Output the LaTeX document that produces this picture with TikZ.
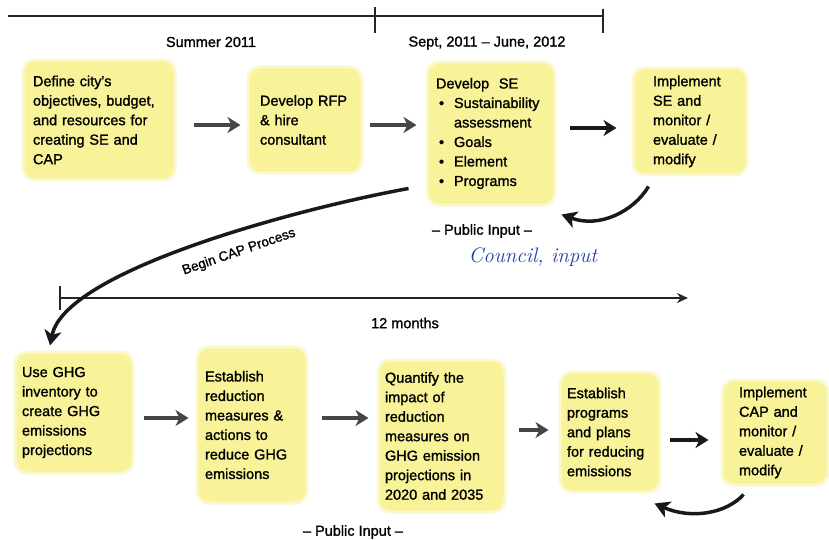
\documentclass[tikz,border=0pt]{standalone}
\usepackage{fontspec}
\newfontfamily\diagfont[FakeBold=1.3]{Liberation Sans}
\usetikzlibrary{arrows.meta}
\definecolor{noteyellow}{RGB}{248,243,152}
\definecolor{noteedge}{RGB}{251,248,205}
\definecolor{arrowgray}{RGB}{66,72,70}
\definecolor{inkblue}{RGB}{28,68,168}
\newcommand{\sebullet}{\makebox[18pt][l]{\hspace{3pt}\textbullet}}
\tikzset{
  stepnote/.style={fill=noteyellow, draw=noteedge, line width=3pt, rounded corners=12pt,
    align=left, inner ysep=2pt, font=\diagfont\fontsize{14.5pt}{19.5pt}\selectfont},
  tlabel/.style={font=\diagfont\fontsize{14.5pt}{17pt}\selectfont},
  timeline/.style={line width=2.4pt, black!85},
  flow/.style={line width=3.5pt, arrowgray, -{Stealth[length=13pt,width=16pt,inset=4pt]}},
  flowdark/.style={flow, black!90},
  loopback/.style={line width=3.5pt, black!90, -{Stealth[length=15pt,width=17pt,inset=4pt]}}
}
\begin{document}
\begin{tikzpicture}[x=1pt,y=-1pt]
\useasboundingbox (0,0) rectangle (829,540);
% time lines
\draw[timeline] (8,16) -- (603,16);
\draw[timeline] (375,7) -- (375,33);
\draw[timeline] (603,9) -- (603,33);
\node[tlabel] (summer) at (211,42) {Summer 2011};
\node[tlabel] (septjune) at (487,43) {Sept, 2011 – June, 2012};
\draw[timeline, -{Stealth[length=11pt,width=10pt]}] (60,298) -- (688,298);
\draw[timeline] (60,286) -- (60,310);
\node[tlabel] (months) at (405,323) {12 months};

% SE steps
\node[stepnote, text width=132pt, inner xsep=10pt, minimum height=120pt] (define) at (99,120)
  {Define city's\\objectives, budget,\\and resources for\\creating SE and\\CAP};
\node[stepnote, text width=90pt, inner xsep=12pt, minimum height=106pt] (rfp) at (305,120)
  {Develop RFP\\\& hire\\consultant};
\node[stepnote, text width=110pt, inner xsep=9pt, minimum height=143pt] (develop) at (491,133.5)
  {Develop\ \ SE\\\sebullet Sustainability\\\hspace*{18pt}assessment\\\sebullet Goals\\\sebullet Element\\\sebullet Programs};
\node[stepnote, text width=74pt, inner xsep=20pt, minimum height=107pt] (implse) at (690,121.5)
  {Implement\\SE and\\monitor /\\evaluate /\\modify};
\node[tlabel] (inputse) at (482,231) {– Public Input –};
\node[font=\rmfamily\itshape\fontsize{21pt}{24pt}\selectfont, inkblue] (council) at (533,257) {Council, input};

% CAP steps
\node[stepnote, text width=104pt, inner xsep=7pt, minimum height=121pt] (ghg) at (74,412.5)
  {Use GHG\\inventory to\\create GHG\\emissions\\projections};
\node[stepnote, text width=94pt, inner xsep=8pt, minimum height=156pt] (measures) at (252,425)
  {Establish\\reduction\\measures \&\\actions to\\reduce GHG\\emissions};
\node[stepnote, text width=113pt, inner xsep=7pt, minimum height=152pt] (quantify) at (441.5,436)
  {Quantify the\\impact of\\reduction\\measures on\\GHG emission\\projections in\\2020 and 2035};
\node[stepnote, text width=86pt, inner xsep=7pt, minimum height=120pt] (programs) at (610,432)
  {Establish\\programs\\and plans\\for reducing\\emissions};
\node[stepnote, text width=72pt, inner xsep=17pt, minimum height=105pt] (implcap) at (775,432.5)
  {Implement\\CAP and\\monitor /\\evaluate /\\modify};
\node[tlabel] (inputcap) at (353,532) {– Public Input –};

% arrows
\draw[flow, shorten <=17pt, shorten >=6pt] ([yshift=-5pt]define.east) -- ([yshift=-5pt]define.east -| rfp.west);
\draw[flow, shorten <=6pt, shorten >=9pt] ([yshift=-5pt]rfp.east) -- ([yshift=-5pt]rfp.east -| develop.west);
\draw[flowdark, shorten <=13pt, shorten >=15pt] ([yshift=5.5pt]develop.east) -- ([yshift=5.5pt]develop.east -| implse.west);
\draw[flow, shorten <=9pt, shorten >=7pt] ([yshift=-5.5pt]ghg.east) -- ([yshift=-5.5pt]ghg.east -| measures.west);
\draw[flow, shorten <=13pt, shorten >=8pt] ([yshift=7pt]measures.east) -- ([yshift=7pt]measures.east -| quantify.west);
\draw[flow, shorten <=12pt, shorten >=10pt] ([yshift=6pt]quantify.east) -- ([yshift=6pt]quantify.east -| programs.west);
\draw[flowdark, shorten <=8pt, shorten >=12pt] ([yshift=-8pt]programs.east) -- ([yshift=-8pt]programs.east -| implcap.west);

\draw[loopback] ([xshift=17pt,yshift=-10pt]implse.south west) .. controls +(-15,25) and +(38,14) .. ([xshift=5pt,yshift=-8pt]develop.south east);
\draw[loopback] ([xshift=23pt,yshift=-8pt]implcap.south west) .. controls +(-17,19) and +(37,16) .. ([xshift=-7pt,yshift=-10pt]programs.south east);
\draw[loopback] ([xshift=-17pt,yshift=18pt]develop.south west) .. controls +(-110,20) and +(15,-75) .. ([xshift=-24pt,yshift=5pt]ghg.north);
\node[font=\diagfont\fontsize{13.5pt}{16pt}\selectfont, rotate=19] (begincap) at (239,252) {Begin CAP Process};
\end{tikzpicture}
\end{document}
